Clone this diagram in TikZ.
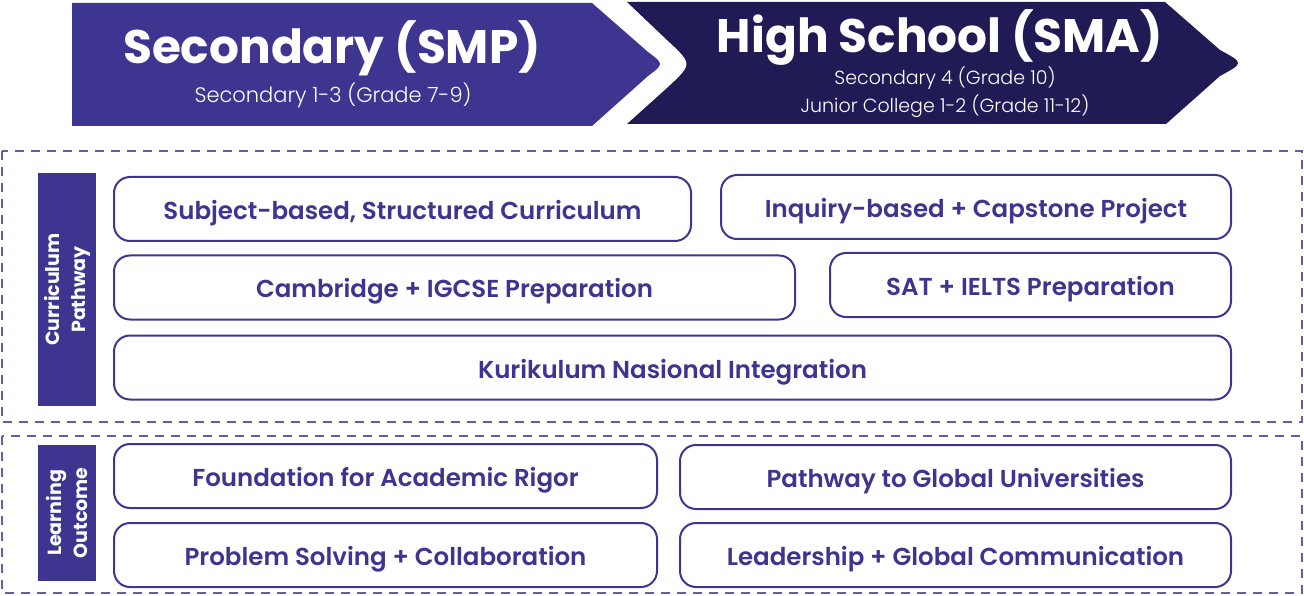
\documentclass[tikz,border=0pt]{standalone}
\usepackage{fontspec}
\setmainfont{Poppins}
\newfontfamily\boxfont{Poppins SemiBold}
\newfontfamily\lightfont{Poppins Light}
\usepackage{tikz}
\usetikzlibrary{positioning}
\definecolor{smpblue}{HTML}{3D3590}
\definecolor{smanavy}{HTML}{211B55}
\tikzstyle{item} = [rectangle, draw=smpblue, line width=2pt, rounded corners=16pt, minimum height=64pt, text=smpblue, font=\boxfont\fontsize{24.5}{28}\selectfont, text height=21pt, text depth=0pt, inner sep=0]
\tikzstyle{side} = [rectangle, fill=smpblue, minimum height=58pt, rotate=90, text=white, font=\bfseries\fontsize{19}{26}\selectfont, align=center, inner sep=0]
\tikzstyle{frame} = [draw=smpblue!80, line width=1.3pt, dash pattern=on 9pt off 7pt]
\tikzstyle{title} = [text=white, font=\bfseries\fontsize{47}{52}\selectfont, inner sep=0]
\tikzstyle{sub} = [text=white, font=\lightfont\fontsize{19}{23}\selectfont, inner sep=0]

\begin{document}
\begin{tikzpicture}[x=1pt, y=-1pt]
\useasboundingbox (0,0) rectangle (1304,596);

\fill [smpblue] (72,3) -- (592,3) -- (648,52) .. controls (664,64) .. (648,76) -- (592,126) -- (72,126) -- cycle;
\fill [smanavy] (627,2) -- (1165,2) -- (1220,50) .. controls (1244,63) .. (1220,76) -- (1166,124) -- (627,124) -- (667,88) .. controls (693,64) .. (667,40) -- cycle;

\node [title] (SMP) at (332,48) {Secondary (SMP)};
\node [sub, font=\lightfont\fontsize{21}{25}\selectfont] (SMPg) at (333,95) {Secondary 1-3 (Grade 7-9)};
\node [title] (SMA) at (940,38) {High School (SMA)};
\node [sub] (SMAg) at (945,78) {Secondary 4 (Grade 10)};
\node [sub] (JCg) at (945,106) {Junior College 1-2 (Grade 11-12)};

\draw [frame] (2,151) rectangle (1302,422);
\draw [frame] (2,436) rectangle (1302,593);

\node [side, minimum width=233pt] (CP) at (67,289.5) {Curriculum\\Pathway};
\node [side, minimum width=136pt] (LO) at (66.5,513) {Learning\\Outcome};

\node [item, minimum width=577pt] (SB) at (402.5,209) {Subject-based, Structured Curriculum};
\node [item, minimum width=510pt] (IB) at (976,207) {Inquiry-based + Capstone Project};
\node [item, minimum width=681pt] (CI) at (454.5,287.5) {Cambridge + IGCSE Preparation};
\node [item, minimum width=401pt] (SI) at (1030.5,285) {SAT + IELTS Preparation};
\node [item, minimum width=1117pt] (KN) at (672.5,367.5) {Kurikulum Nasional Integration};

\node [item, minimum width=543pt] (FA) at (385.5,476) {Foundation for Academic Rigor};
\node [item, minimum width=551pt] (PG) at (955.5,477) {Pathway to Global Universities};
\node [item, minimum width=543pt] (PS) at (385.5,555) {Problem Solving + Collaboration};
\node [item, minimum width=551pt] (LG) at (955.5,555) {Leadership + Global Communication};

\end{tikzpicture}
\end{document}
